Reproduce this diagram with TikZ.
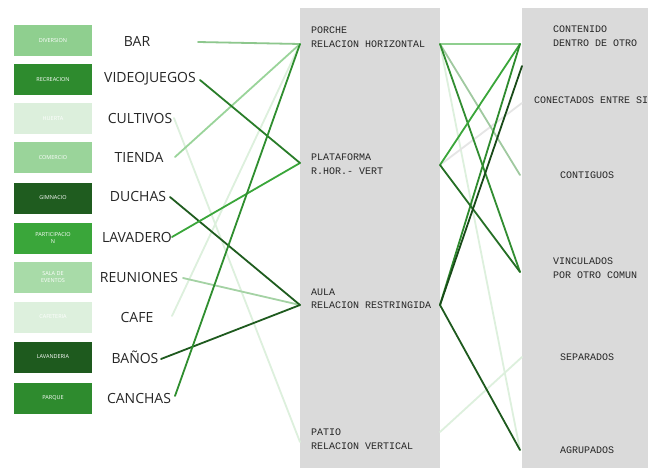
\documentclass[tikz,border=0pt]{standalone}
\usepackage{fontspec}
\setmainfont{Open Sans}
\newfontfamily\monofont{Liberation Mono}
\definecolor{cA}{HTML}{8FCF8F}
\definecolor{cB}{HTML}{2E8B2E}
\definecolor{cC}{HTML}{DCEFDC}
\definecolor{cD}{HTML}{9AD49A}
\definecolor{cE}{HTML}{1F5C1F}
\definecolor{cF}{HTML}{3AA63A}
\definecolor{cG}{HTML}{A8DBA8}
\definecolor{cH}{HTML}{DDF0DD}
\definecolor{cI}{HTML}{1E5A1E}
\definecolor{cJ}{HTML}{2E8B2E}
\definecolor{panelgray}{HTML}{DADADA}
\begin{document}
\begin{tikzpicture}[x=1pt,y=-1pt,
  cat/.style={minimum width=78pt, minimum height=31pt, inner sep=0pt, text=white,
    font=\fontsize{5.5}{6.5}\selectfont, align=center},
  lab/.style={font=\fontsize{14}{16}\selectfont, text=black!85, inner sep=0pt},
  ptxt/.style={font=\monofont\fontsize{10}{13.5}\selectfont, text=black!85, align=left,
    inner sep=0pt, anchor=west},
  panel/.style={fill=panelgray, draw=none, inner sep=0pt, anchor=north west},
  conn/.style={line width=1.8pt, line cap=round}]
\useasboundingbox (0,0) rectangle (648,468);
\fill[white] (0,0) rectangle (648,468);

% panels
\node[panel, minimum width=140pt, minimum height=460pt] (mid) at (300,8) {};
\node[panel, minimum width=126pt, minimum height=460pt] (rgt) at (522,8) {};

% category boxes
\node[cat, fill=cA] (k1) at (53,41) {DIVERSION};
\node[cat, fill=cB] (k2) at (53,80) {RECREACION};
\node[cat, fill=cC] (k3) at (53,119) {HUERTA};
\node[cat, fill=cD] (k4) at (53,158) {COMERCIO};
\node[cat, fill=cE] (k5) at (53,198) {GIMNACIO};
\node[cat, fill=cF] (k6) at (53,238) {PARTICIPACIO\\N};
\node[cat, fill=cG] (k7) at (53,277) {SALA DE\\EVENTOS};
\node[cat, fill=cH] (k8) at (53,317) {CAFETERIA};
\node[cat, fill=cI] (k9) at (53,357) {LAVANDERIA};
\node[cat, fill=cJ] (k10) at (53,398) {PARQUE};

% labels
\node[lab] (bar) at (137,41) {BAR};
\node[lab] (vid) at (150,79) {VIDEOJUEGOS};
\node[lab] (cul) at (140,118) {CULTIVOS};
\node[lab] (tie) at (139,157) {TIENDA};
\node[lab] (duc) at (138,196) {DUCHAS};
\node[lab] (lav) at (137,237) {LAVADERO};
\node[lab] (reu) at (139,277) {REUNIONES};
\node[lab] (caf) at (137,317) {CAFE};
\node[lab] (ban) at (135,357) {BAÑOS};
\node[lab] (can) at (139,398) {CANCHAS};

% middle texts
\node[ptxt] (por) at (311,37) {PORCHE\\RELACION HORIZONTAL};
\node[ptxt] (pla) at (311,164) {PLATAFORMA\\R.HOR.- VERT};
\node[ptxt] (aul) at (311,299) {AULA\\RELACION RESTRINGIDA};
\node[ptxt] (pat) at (311,439) {PATIO\\RELACION VERTICAL};

% right texts
\node[ptxt] (cnt) at (553,36) {CONTENIDO\\DENTRO DE OTRO};
\node[ptxt] (cne) at (534,100) {CONECTADOS ENTRE SI};
\node[ptxt] (ctg) at (560,175) {CONTIGUOS};
\node[ptxt] (vin) at (553,268) {VINCULADOS\\POR OTRO COMUN};
\node[ptxt] (sep) at (560,357) {SEPARADOS};
\node[ptxt] (agr) at (560,450) {AGRUPADOS};

% anchor coordinates
\coordinate (barE) at (198,42);
\coordinate (vidE) at (200,80);
\coordinate (culE) at (174,118);
\coordinate (tieE) at (175,157);
\coordinate (ducE) at (170,197);
\coordinate (lavE) at (172,237);
\coordinate (reuE) at (183,278);
\coordinate (cafE) at (172,316);
\coordinate (banE) at (161,359);
\coordinate (canE) at (175,396);

\coordinate (porL) at (300,44);
\coordinate (plaL) at (300,163);
\coordinate (aulL) at (300,305);
\coordinate (patL) at (300,442);
\coordinate (porR) at (440,44);
\coordinate (plaR) at (440,165);
\coordinate (aulR) at (440,305);
\coordinate (patR) at (440,432);

\coordinate (cntL) at (520,44);
\coordinate (cneD) at (522,66);
\coordinate (cneL) at (522,103);
\coordinate (ctgL) at (520,175);
\coordinate (vinL) at (520,272);
\coordinate (sepL) at (522,357);
\coordinate (agrL) at (520,450);

% left connectors
\draw[conn, color=cH] (culE) -- (patL);
\draw[conn, color=cH] (cafE) -- (porL);
\draw[conn, color=cA!90!gray] (barE) -- (porL);
\draw[conn, color=cD] (tieE) -- (porL);
\draw[conn, color=cG!90!gray] (reuE) -- (aulL);
\draw[conn, color=cE] (ducE) -- (aulL);
\draw[conn, color=cF] (lavE) -- (plaL);
\draw[conn, color=cB!90!black] (vidE) -- (plaL);
\draw[conn, color=cI] (banE) -- (aulL);
\draw[conn, color=cJ!90!cF] (canE) -- (porL);

% right connectors
\draw[conn, color=cH] (porR) -- (agrL);
\draw[conn, color=cH] (patR) -- (sepL);
\draw[conn, color=gray!20] (plaR) -- (cneL);
\draw[conn, color=cG!80!gray] (porR) -- (ctgL);
\draw[conn, color=cA] (porR) -- (cntL);
\draw[conn, color=cF!85!black] (porR) -- (vinL);
\draw[conn, color=cF] (plaR) -- (cntL);
\draw[conn, color=cB] (aulR) -- (cntL);
\draw[conn, color=cB!80!black] (plaR) -- (vinL);
\draw[conn, color=cE!80!black] (aulR) -- (cneD);
\draw[conn, color=cI] (aulR) -- (agrL);
\end{tikzpicture}
\end{document}
